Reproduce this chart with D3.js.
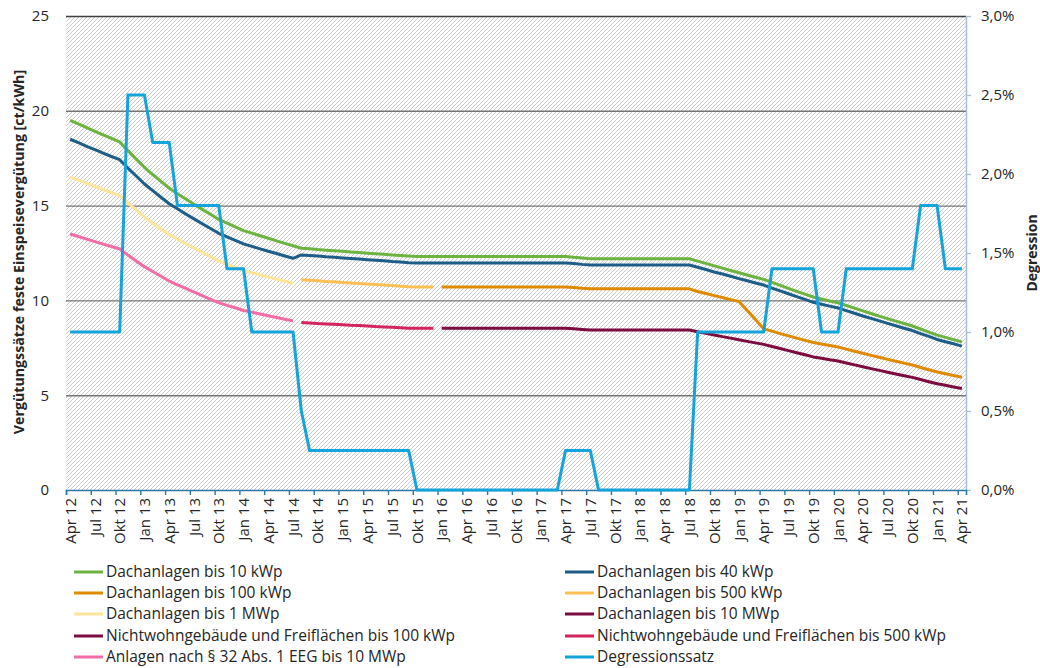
<!DOCTYPE html>
<html><head><meta charset="utf-8">
<script src="https://cdn.jsdelivr.net/npm/d3@7"></script>
<style>
body{margin:0;background:#fff}
svg{display:block}
text{font-family:"Open Sans","Noto Sans",Arial,sans-serif;fill:#262626}
</style>
</head><body>
<svg id="c" width="1040" height="668"></svg>
<script>
// ---- categories (monthly) ----
const months = [
 "Apr 12","Mai 12","Jun 12","Jul 12","Aug 12","Sep 12","Okt 12","Nov 12","Dez 12",
 "Jan 13","Feb 13","Mär 13","Apr 13","Mai 13","Jun 13","Jul 13","Aug 13","Sep 13","Okt 13","Nov 13","Dez 13",
 "Jan 14","Feb 14","Mär 14","Apr 14","Mai 14","Jun 14","Jul 14","Aug 14","Sep 14","Okt 14","Nov 14","Dez 14",
 "Jan 15","Feb 15","Mär 15","Apr 15","Mai 15","Jun 15","Jul 15","Aug 15","Sep 15","Okt 15","Nov 15","Dez 15",
 "Jan 16","Feb 16","Mär 16","Apr 16","Mai 16","Jun 16","Jul 16","Aug 16","Sep 16","Okt 16","Nov 16","Dez 16",
 "Jan 17","Feb 17","Mär 17","Apr 17","Mai 17","Jun 17","Jul 17","Aug 17","Sep 17","Okt 17","Nov 17","Dez 17",
 "Jan 18","Feb 18","Mär 18","Apr 18","Mai 18","Jun 18","Jul 18","Aug 18","Sep 18","Okt 18","Nov 18","Dez 18",
 "Jan 19","Feb 19","Mär 19","Apr 19","Mai 19","Jun 19","Jul 19","Aug 19","Sep 19","Okt 19","Nov 19","Dez 19",
 "Jan 20","Feb 20","Mär 20","Apr 20","Mai 20","Jun 20","Jul 20","Aug 20","Sep 20","Okt 20","Nov 20","Dez 20",
 "Jan 21","Feb 21","Mär 21","Apr 21"];

const tickLabels = ["Apr 12","Jul 12","Okt 12","Jan 13","Apr 13","Jul 13","Okt 13","Jan 14","Apr 14","Jul 14","Okt 14",
 "Jan 15","Apr 15","Jul 15","Okt 15","Jan 16","Apr 16","Jul 16","Okt 16","Jan 17","Apr 17","Jul 17","Okt 17",
 "Jan 18","Apr 18","Jul 18","Okt 18","Jan 19","Apr 19","Jul 19","Okt 19","Jan 20","Apr 20","Jul 20","Okt 20","Jan 21","Apr 21"];

const yTicks = [0,5,10,15,20,25];
const yRTicks = [0,0.5,1.0,1.5,2.0,2.5,3.0];

// ---- series values [ct/kWh], each with its first month ----
const dach10Start = "Apr 12";
const dach10 = [19.50,19.31,19.11,18.92,18.73,18.54,18.36,17.90,17.45,17.02,16.64,16.28,15.92,15.63,15.35,15.07,14.80,14.54,14.27,14.07,13.88,13.68,13.55,13.41,13.28,13.14,13.01,12.88,
 12.75,12.72,12.68,12.65,12.62,12.59,12.55,12.52,12.49,12.46,12.43,12.40,12.37,12.34,
 12.31,12.31,12.31,12.31,12.31,12.31,12.31,12.31,12.31,12.31,12.31,12.31,12.31,12.31,12.31,12.31,12.31,12.31,
 12.31,12.27,12.24,12.20,
 12.20,12.20,12.20,12.20,12.20,12.20,12.20,12.20,12.20,12.20,12.20,12.20,
 12.07,11.95,11.82,11.70,11.58,11.46,11.34,11.22,11.11,
 10.95,10.79,10.63,10.48,10.33,10.18,
 10.07,9.97,9.87,
 9.73,9.59,9.45,9.31,9.17,9.04,8.91,8.78,8.65,
 8.49,8.33,8.17,
 8.05,7.93,7.81];

const dach40Start = "Apr 12";
const dach40 = [18.50,18.32,18.13,17.95,17.77,17.59,17.42,16.98,16.56,16.14,15.79,15.44,15.10,14.83,14.56,14.30,14.04,13.79,13.54,13.35,13.17,12.98,12.85,12.72,12.59,12.47,12.34,12.22,
 12.40,12.37,12.34,12.30,12.27,12.24,12.21,12.18,12.15,12.12,12.09,12.05,12.02,11.99,
 11.97,11.97,11.97,11.97,11.97,11.97,11.97,11.97,11.97,11.97,11.97,11.97,11.97,11.97,11.97,11.97,11.97,11.97,
 11.97,11.94,11.90,11.87,
 11.87,11.87,11.87,11.87,11.87,11.87,11.87,11.87,11.87,11.87,11.87,11.87,
 11.75,11.63,11.50,11.39,11.27,11.15,11.04,10.92,10.81,
 10.65,10.50,10.35,10.20,10.05,9.90,
 9.80,9.70,9.60,
 9.46,9.32,9.18,9.05,8.92,8.79,8.66,8.53,8.41,
 8.25,8.10,7.94,
 7.82,7.71,7.59];

const dach100Start = "Jan 16";
const dach100 = [10.71,10.71,10.71,10.71,10.71,10.71,10.71,10.71,10.71,10.71,10.71,10.71,10.71,10.71,10.71,
 10.71,10.68,10.64,10.61,
 10.61,10.61,10.61,10.61,10.61,10.61,10.61,10.61,10.61,10.61,10.61,10.61,
 10.47,10.36,10.25,10.15,10.04,9.94,
 9.47,8.99,8.50,
 8.38,8.25,8.13,8.01,7.89,7.78,
 7.70,7.62,7.54,
 7.43,7.32,7.21,7.10,7.00,6.89,6.79,6.69,6.59,
 6.46,6.34,6.22,
 6.13,6.04,5.95];

const dach500Start = "Aug 14";
const dach500 = [11.09,11.06,11.03,11.00,10.98,10.95,10.92,10.89,10.86,10.84,10.81,10.78,10.75,10.72,10.71,10.71,10.71];

const dach1MWStart = "Apr 12";
const dach1MW = [16.50,16.34,16.17,16.01,15.85,15.69,15.53,15.15,14.77,14.40,14.08,13.77,13.47,13.23,12.99,12.76,12.53,12.30,12.08,11.91,11.74,11.58,11.46,11.35,11.23,11.12,11.01,10.90];

const dach10MWStart = "Jan 16";
const dach10MW = []; // nicht separat sichtbar

const nwf100Start = "Jan 16";
const nwf100 = [8.53,8.53,8.53,8.53,8.53,8.53,8.53,8.53,8.53,8.53,8.53,8.53,8.53,8.53,8.53,
 8.53,8.50,8.47,8.44,
 8.44,8.44,8.44,8.44,8.44,8.44,8.44,8.44,8.44,8.44,8.44,8.44,
 8.35,8.26,8.18,8.09,8.01,7.92,7.84,7.76,7.68,
 7.57,7.46,7.35,7.24,7.13,7.02,
 6.95,6.87,6.80,
 6.70,6.60,6.50,6.40,6.31,6.21,6.12,6.03,5.94,
 5.83,5.71,5.60,
 5.52,5.43,5.35];

const nwf500Start = "Aug 14";
const nwf500 = [8.83,8.81,8.78,8.76,8.74,8.72,8.69,8.67,8.65,8.62,8.60,8.58,8.56,8.53,8.53,8.53,8.53];

const par32Start = "Apr 12";
const par32 = [13.50,13.37,13.23,13.10,12.97,12.84,12.71,12.39,12.08,11.78,11.52,11.27,11.02,10.82,10.63,10.44,10.25,10.06,9.88,9.74,9.61,9.47,9.38,9.28,9.19,9.10,9.01,8.92];

// Degressionssatz [%] per month, Apr 12 .. Apr 21
const degression = [1.0,1.0,1.0,1.0,1.0,1.0,1.0, 2.5,2.5,2.5, 2.2,2.2,2.2, 1.8,1.8,1.8,1.8,1.8,1.8, 1.4,1.4,1.4,
 1.0,1.0,1.0,1.0,1.0,1.0, 0.5, 0.25,0.25,0.25,0.25,0.25,0.25,0.25,0.25,0.25,0.25,0.25,0.25,0.25,
 0,0,0,0,0,0,0,0,0,0,0,0,0,0,0,0,0,0, 0.25,0.25,0.25,0.25, 0,0,0,0,0,0,0,0,0,0,0,0,
 1.0,1.0,1.0,1.0,1.0,1.0,1.0,1.0,1.0, 1.4,1.4,1.4,1.4,1.4,1.4, 1.0,1.0,1.0,
 1.4,1.4,1.4,1.4,1.4,1.4,1.4,1.4,1.4, 1.8,1.8,1.8, 1.4,1.4,1.4];

const seriesNames = ["Dachanlagen bis 10 kWp","Dachanlagen bis 40 kWp","Dachanlagen bis 100 kWp","Dachanlagen bis 500 kWp",
 "Dachanlagen bis 1 MWp","Dachanlagen bis 10 MWp","Nichtwohngebäude und Freiflächen bis 100 kWp",
 "Nichtwohngebäude und Freiflächen bis 500 kWp","Anlagen nach § 32 Abs. 1 EEG bis 10 MWp","Degressionssatz"];
const seriesColors = ["#6cb33f","#1d5d88","#e08a00","#ffbf55","#fee59c","#7c0b40","#7c0b40","#d3245d","#f26ca7","#14a3da"];

// ---- build ----
const svg = d3.select("#c");
const L = 66, R = 966, T = 16, B = 490;
const FONT = "'Open Sans','Noto Sans',Arial,sans-serif";

const x = d3.scaleLinear().domain([0, months.length]).range([L, R]);
const y = d3.scaleLinear().domain([0, 25]).range([B, T]);
const yR = d3.scaleLinear().domain([0, 3]).range([B, T]);

const defs = svg.append("defs");
const pat = defs.append("pattern").attr("id","hatch").attr("width",4).attr("height",4)
  .attr("patternUnits","userSpaceOnUse");
pat.append("rect").attr("width",4).attr("height",4).attr("fill","#fff");
pat.append("path").attr("d","M-1,1 L1,-1 M0,4 L4,0 M3,5 L5,3")
  .attr("stroke","#cdcdcd").attr("stroke-width",1);

svg.append("rect").attr("x",L).attr("y",T).attr("width",R-L).attr("height",B-T).attr("fill","url(#hatch)");

// gridlines
const grid = svg.append("g").attr("transform",`translate(${L},0)`)
  .call(d3.axisLeft(y).tickValues(yTicks.filter(v=>v>0)).tickSize(-(R-L)).tickFormat(""));
grid.select(".domain").remove();
grid.selectAll(".tick line").attr("stroke", d => d===25 ? "#3f3f3f" : "#767676").attr("stroke-width",1.4);

// left labels
const yAx = svg.append("g").attr("transform",`translate(${L},0)`)
  .call(d3.axisLeft(y).tickValues(yTicks).tickSize(0).tickPadding(17));
yAx.select(".domain").remove();
yAx.selectAll("text").style("font-size","15px").style("font-family",FONT).attr("fill","#262626");

// right axis
const yRAx = svg.append("g").attr("transform",`translate(${R},0)`)
  .call(d3.axisRight(yR).tickValues(yRTicks).tickSize(5).tickPadding(10)
    .tickFormat(v => d3.format(".1f")(v).replace(".",",") + "%"));
yRAx.select(".domain").attr("stroke","#a9bfd5").attr("stroke-width",1.5).attr("d",`M0.5,${T}V${B+0.5}`);
yRAx.selectAll(".tick line").attr("stroke","#a9bfd5").attr("stroke-width",1.3);
yRAx.selectAll("text").style("font-size","15px").style("font-family",FONT).attr("fill","#262626");

// bottom axis
const tickIdx = tickLabels.map(l => months.indexOf(l));
const xAx = svg.append("g").attr("transform",`translate(0,${B})`)
  .call(d3.axisBottom(x).tickValues(tickIdx).tickSize(5).tickFormat(""));
xAx.select(".domain").attr("stroke","#2d79a6").attr("stroke-width",1.6);
xAx.selectAll(".tick line").attr("stroke","#2d79a6").attr("stroke-width",1.4);
svg.append("g").selectAll("text").data(tickLabels).join("text")
  .attr("transform", l => `translate(${x(months.indexOf(l)) + 4.5},${B + 8}) rotate(-90)`)
  .attr("text-anchor","end").attr("dy","0.35em")
  .style("font-size","15px").text(l => l);

// axis titles
svg.append("text").attr("transform",`translate(19,252) rotate(-90)`)
  .attr("text-anchor","middle").attr("dy","0.35em").style("font-size","14.2px").style("font-weight","bold")
  .text("Vergütungssätze feste Einspeisevergütung [ct/kWh]");
svg.append("text").attr("transform",`translate(1032,253) rotate(-90)`)
  .attr("text-anchor","middle").attr("dy","0.35em").style("font-size","14px").style("font-weight","bold")
  .text("Degression");

// series
const priceSeries = [
  [dach10Start, dach10],[dach40Start, dach40],[dach100Start, dach100],[dach500Start, dach500],
  [dach1MWStart, dach1MW],[dach10MWStart, dach10MW],[nwf100Start, nwf100],[nwf500Start, nwf500],[par32Start, par32]
];
const line = d3.line().x(d => x(d.i + 0.5)).y(d => d.s(d.v));
const gLines = svg.append("g").attr("fill","none").attr("stroke-width",3)
  .attr("stroke-linejoin","round").attr("stroke-linecap","butt");
priceSeries.forEach(([start, vals], k) => {
  const s0 = months.indexOf(start);
  const pts = vals.map((v, j) => ({i: s0 + j, v, s: y}));
  if (pts.length) gLines.append("path").attr("d", line(pts)).attr("stroke", seriesColors[k]);
});
const degPts = degression.map((v, i) => ({i, v, s: yR}));
gLines.append("path").attr("d", line(degPts)).attr("stroke", seriesColors[9]);

// legend
const legRows = [572, 593, 614, 636, 657];
const leg = svg.append("g");
seriesNames.forEach((n, k) => {
  const col = k % 2, row = Math.floor(k / 2);
  const lx = col ? 565 : 74, ly = legRows[row];
  leg.append("line").attr("x1", lx).attr("x2", lx + 29).attr("y1", ly).attr("y2", ly)
    .attr("stroke", seriesColors[k]).attr("stroke-width", 3);
  leg.append("text").attr("x", lx + 32).attr("y", ly).attr("dy","0.35em")
    .style("font-size","15.5px").text(n);
});
</script>
</body></html>
